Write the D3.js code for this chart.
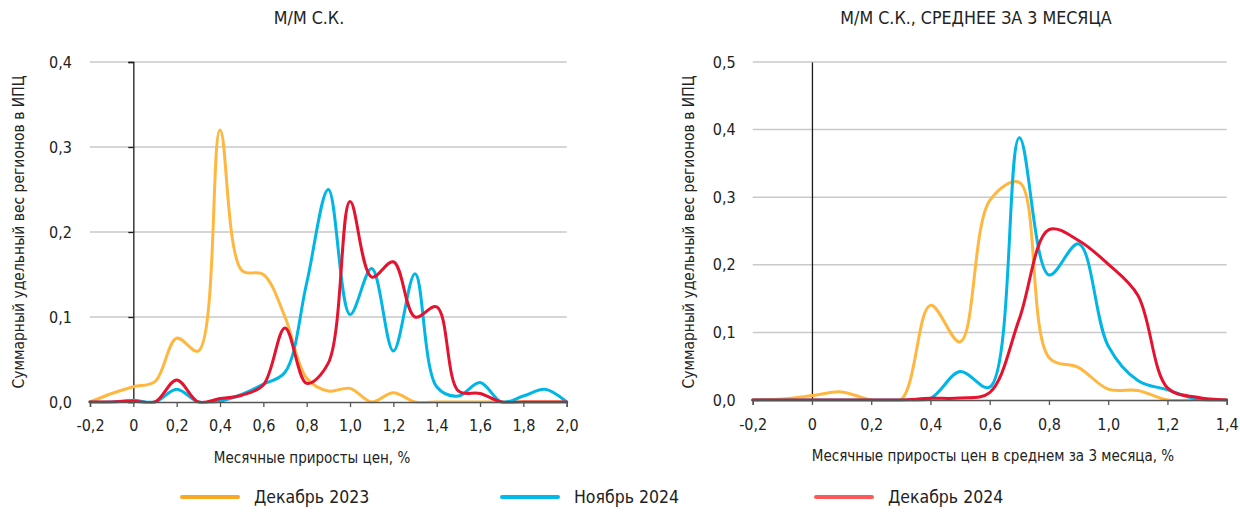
<!DOCTYPE html>
<html><head><meta charset="utf-8">
<script src="https://cdn.jsdelivr.net/npm/d3@7"></script>
<style>
body{margin:0;background:#fff;}
svg text{font-family:"Liberation Sans Narrow","DejaVu Sans Condensed","Roboto",sans-serif;fill:#222;}
</style></head>
<body><svg id="c" width="1240" height="513"></svg>
<script>
// ---------- data ----------
const xLeft = [-0.2,-0.1,0,0.1,0.2,0.3,0.4,0.5,0.6,0.7,0.8,0.9,1.0,1.1,1.2,1.3,1.4,1.5,1.6,1.7,1.8,1.9,2.0];
const dec2023Left = [0,0.01,0.018,0.024,0.075,0.06,0.32,0.155,0.15,0.1,0.028,0.013,0.016,0,0.011,0,0,0,0,0,0,0,0];
const nov2024Left = [0,0,0.002,0,0.015,0,0.001,0.009,0.021,0.035,0.14,0.25,0.103,0.157,0.06,0.151,0.018,0.007,0.023,0,0.007,0.015,0];
const dec2024Left = [0,0,0.001,0,0.026,0,0.004,0.008,0.02,0.087,0.022,0.046,0.236,0.147,0.165,0.1,0.112,0.013,0.01,0,0,0,0];

const xRight = [-0.2,-0.1,0,0.1,0.2,0.3,0.4,0.5,0.6,0.7,0.8,0.9,1.0,1.1,1.2,1.3,1.4];
const dec2023Right = [0,0.0015,0.0065,0.012,0,0,0.14,0.086,0.295,0.322,0.063,0.048,0.016,0.014,0,0,0];
const nov2024Right = [0,0,0,0,0,0,0.0025,0.042,0.019,0.388,0.185,0.231,0.08,0.029,0.015,0.0015,0];
const dec2024Right = [0,0,0,0,0,0,0.0025,0.003,0.011,0.12,0.252,0.236,0.201,0.155,0.018,0.004,0];

const seriesNames = ["Декабрь 2023","Ноябрь 2024","Декабрь 2024"];
const lineColors = ["#FFB740","#00B6E6","#E5132F"];
const legendColors = ["#F8A823","#00BBEA","#FF5A5A"];

const titleLeft = "М/М С.К.";
const titleRight = "М/М С.К., СРЕДНЕЕ ЗА 3 МЕСЯЦА";
const yTitle = "Суммарный удельный вес регионов в ИПЦ";
const xTitleLeft = "Месячные приросты цен, %";
const xTitleRight = "Месячные приросты цен в среднем за 3 месяца, %";
const xTicksLeft = [-0.2,0,0.2,0.4,0.6,0.8,1.0,1.2,1.4,1.6,1.8,2.0];
const xTicksRight = [-0.2,0,0.2,0.4,0.6,0.8,1.0,1.2,1.4];
const yTicksLeft = [0,0.1,0.2,0.3,0.4];
const yTicksRight = [0,0.1,0.2,0.3,0.4,0.5];

// ---------- drawing ----------
const svg = d3.select("#c");
const fmtX = d => d === 0 ? "0" : d3.format(".1f")(d).replace("−","-").replace(".",",");
const fmtY = d => d3.format(".1f")(d).replace(".",",");

function panel(cfg){
  const x = d3.scaleLinear().domain(cfg.xDomain).range(cfg.xRange);
  const y = d3.scaleLinear().domain(cfg.yDomain).range(cfg.yRange);
  const g = svg.append("g");
  const [x0,x1] = cfg.xRange, [yb,yt] = cfg.yRange;

  // gridlines
  g.append("g").selectAll("line").data(cfg.yTicks.filter(d=>d>0)).join("line")
    .attr("x1",x0).attr("x2",x1).attr("y1",d=>y(d)).attr("y2",d=>y(d))
    .attr("stroke","#C9C9C9").attr("stroke-width",1.5);

  // y labels
  const ya = g.append("g").attr("transform",`translate(${x0},0)`)
    .call(d3.axisLeft(y).tickValues(cfg.yTicks).tickFormat(fmtY).tickSize(0).tickPadding(cfg.yPad));
  ya.select(".domain").remove();
  ya.selectAll("text").style("font-size","16px").attr("fill","#222");

  // zero vertical axis
  const za = g.append("g").attr("transform",`translate(${x(0)},0)`)
    .call(d3.axisLeft(y).tickValues(cfg.yTicks).tickFormat("").tickSize(cfg.zeroTick).tickSizeOuter(cfg.zeroTick));
  za.select(".domain").attr("stroke","#1a1a1a").attr("stroke-width",1.3);
  za.selectAll(".tick line").attr("stroke","#1a1a1a").attr("stroke-width",1.3);

  // lines
  const clipId = "clip"+cfg.id;
  svg.append("clipPath").attr("id",clipId).append("rect")
    .attr("x",x0-2).attr("y",yt-5).attr("width",x1-x0+4).attr("height",yb-yt+6.5);
  const line = d3.line().x(d=>x(d[0])).y(d=>y(d[1])).curve(d3.curveCatmullRom.alpha(0.5));
  cfg.series.forEach((s,i)=>{
    g.append("path").attr("clip-path",`url(#${clipId})`)
      .datum(cfg.xs.map((v,k)=>[v,s[k]]))
      .attr("d",line).attr("fill","none").attr("stroke",lineColors[i])
      .attr("stroke-width",3).attr("stroke-linejoin","round").attr("stroke-linecap","round");
  });

  // x axis
  const xa = g.append("g").attr("transform",`translate(0,${yb})`)
    .call(d3.axisBottom(x).tickValues(cfg.xTicks).tickFormat(fmtX).tickSize(5).tickSizeOuter(5).tickPadding(cfg.xPad));
  xa.select(".domain").attr("stroke","#555").attr("stroke-width",1.5);
  xa.selectAll(".tick line").attr("stroke","#555").attr("stroke-width",1.3);
  xa.selectAll("text").style("font-size","16px").attr("fill","#222");

  // titles
  g.append("text").attr("x",cfg.titleX).attr("y",24).attr("text-anchor","middle")
    .style("font-size","17.7px").text(cfg.title);
  g.append("text").attr("x",cfg.xTitleX).attr("y",cfg.xTitleY).attr("text-anchor","middle")
    .style("font-size","15px").text(cfg.xTitle);
  g.append("text").attr("transform",`translate(${cfg.yTitleX},232) rotate(-90)`)
    .attr("text-anchor","middle").style("font-size","15.5px").text(yTitle);
}

panel({id:"L", xDomain:[-0.2,2.0], xRange:[90,566.7], yDomain:[0,0.4], yRange:[402,62],
  xs:xLeft, series:[dec2023Left,nov2024Left,dec2024Left], xTicks:xTicksLeft, yTicks:yTicksLeft,
  yPad:18, xPad:13, zeroTick:5, title:titleLeft, titleX:309, xTitle:xTitleLeft, xTitleX:312, xTitleY:463, yTitleX:24});

panel({id:"R", xDomain:[-0.2,1.4], xRange:[752.7,1226.7], yDomain:[0,0.5], yRange:[400,62],
  xs:xRight, series:[dec2023Right,nov2024Right,dec2024Right], xTicks:xTicksRight, yTicks:yTicksRight,
  yPad:17, xPad:14, zeroTick:0, title:titleRight, titleX:976, xTitle:xTitleRight, xTitleX:993, xTitleY:461, yTitleX:694});

// legend
const legX = [182,502,816];
const lg = svg.append("g");
seriesNames.forEach((n,i)=>{
  lg.append("line").attr("x1",legX[i]).attr("x2",legX[i]+56).attr("y1",497).attr("y2",497)
    .attr("stroke",legendColors[i]).attr("stroke-width",4).attr("stroke-linecap","round");
  lg.append("text").attr("x",legX[i]+72).attr("y",503).style("font-size","17.5px").text(n);
});
</script></body></html>
